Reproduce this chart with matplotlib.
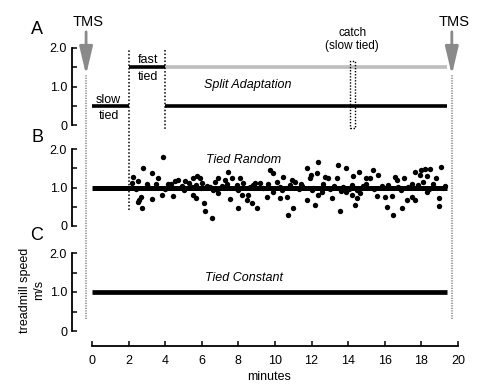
import matplotlib
matplotlib.use("Agg")
import matplotlib.pyplot as plt
from matplotlib.patches import Rectangle

plt.rcParams['font.family'] = ['Liberation Sans', 'DejaVu Sans']

# ---------------- data ----------------
# Panel A: split adaptation protocol (start, end, speed, colour)
a_start = [0, 2, 4, 4]
a_end = [2, 4, 19.4, 19.4]
a_speed = [0.5, 1.5, 1.5, 0.5]
a_color = ['black', 'black', '#bdbdbd', 'black']
catch_start, catch_end = 14.1, 14.37

# Panel B: tied random speeds
b_line_x = [0, 19.4]
b_line_y = [1.0, 1.0]
b_x = [2.17, 2.26, 2.50, 2.53, 2.57, 2.68, 2.75, 2.80, 2.99, 3.08, 3.26, 3.30, 3.62, 3.84, 3.90,
       4.17, 4.45, 4.54, 4.72, 4.90, 5.10, 5.30, 5.45, 5.54, 5.54, 5.66, 5.72, 5.90, 5.95, 6.14,
       6.17, 6.30, 6.45, 6.54, 6.63, 6.72, 6.90, 6.90, 7.10, 7.27, 7.45, 7.54, 7.63, 7.80, 7.90,
       7.99, 8.09, 8.18, 8.27, 8.45, 8.54, 8.63, 8.72, 8.90, 9.00, 9.18, 9.35, 9.54, 9.73, 9.90,
       9.90, 10.09, 10.27, 10.27, 10.45, 10.63, 10.72, 10.91, 11.00, 11.09, 11.30, 11.50, 11.73,
       11.73, 11.91, 11.97, 12.10, 12.19, 12.28, 12.33, 12.37, 12.55, 12.73, 12.91, 13.10, 13.20,
       13.37, 13.46, 13.55, 13.73, 13.88, 13.90, 14.05, 14.19, 14.28, 14.37, 14.46, 14.59, 14.64,
       14.80, 14.97, 15.19, 15.37, 15.56, 15.65, 15.85, 16.01, 16.10, 16.38, 16.46, 16.56, 16.65,
       16.74, 16.92, 17.07, 17.20, 17.29, 17.47, 17.65, 17.65, 17.83, 17.92, 18.01, 18.10, 18.20,
       18.29, 18.29, 18.47, 18.65, 18.83, 18.96, 18.96, 19.07, 19.20,
       2.40, 3.50, 4.00, 4.30, 5.00, 5.70, 6.00, 6.80, 7.40, 8.00, 8.80, 9.60, 10.40, 10.80,
       11.40, 12.00, 12.60, 13.00, 13.60, 14.20, 14.50, 15.00, 15.40, 16.20, 16.90, 17.50,
       18.40, 19.30]
b_y = [1.11, 1.28, 0.63, 1.17, 0.68, 0.76, 0.46, 1.51, 1.08, 1.02, 0.70, 1.37, 1.25, 0.81, 1.80,
       1.08, 0.79, 1.17, 1.19, 1.05, 1.18, 1.12, 1.02, 1.24, 0.81, 0.72, 1.31, 1.24, 1.00, 0.59,
       0.39, 1.05, 1.02, 0.22, 0.94, 1.15, 1.24, 0.85, 1.05, 1.19, 1.41, 0.69, 1.24, 1.00, 1.06,
       0.46, 1.24, 0.81, 1.11, 0.68, 0.81, 1.02, 0.59, 1.11, 0.48, 1.11, 1.00, 0.76, 1.45, 1.37,
       0.89, 1.15, 1.02, 0.72, 1.27, 0.76, 0.29, 1.19, 0.48, 1.15, 0.95, 1.05, 1.51,
       0.68, 1.24, 1.32, 1.00, 0.55, 1.37, 1.65, 0.81, 0.89, 1.28, 1.24, 0.74, 1.05,
       1.25, 1.58, 0.39, 1.02, 1.51, 0.89, 0.95, 0.81, 1.31, 0.55, 0.72, 1.39, 0.85,
       1.05, 1.24, 1.24, 1.45, 0.79, 1.32, 1.05, 0.76, 0.50, 0.79, 0.29, 1.28, 1.19,
       1.02, 0.46, 1.25, 0.68, 1.02, 0.76, 1.39, 0.68, 1.06, 1.32, 1.45, 1.15, 1.48,
       1.31, 0.89, 1.48, 1.10, 1.24, 0.72, 0.52, 1.54, 1.00,
       0.97, 1.08, 0.95, 1.10, 0.93, 1.07, 1.12, 0.96, 1.08, 0.94, 1.06, 1.09, 0.93, 1.06,
       1.08, 0.94, 1.10, 0.97, 0.92, 1.06, 0.93, 1.08, 0.95, 1.07, 0.94, 1.10, 0.96, 1.03]

# Panel C: tied constant
c_line_x = [0, 19.4]
c_line_y = [1.0, 1.0]

tms_x = [-0.33, 19.67]
x_ticks = list(range(0, 21, 2))
y_ticks = [0, 0.5, 1.0, 1.5, 2.0]
y_ticklabels = ['0', '', '1.0', '', '2.0']

# ---------------- figure ----------------
W, H = 486, 388
fig = plt.figure(figsize=(W / 100, H / 100), dpi=100)

def add_panel(y0_px, y2_px):
    return fig.add_axes([72 / W, (H - y0_px) / H, 395 / W, (y0_px - y2_px) / H])

axA = add_panel(125, 48)
axB = add_panel(226, 149)
axC = add_panel(331, 253)

for ax in (axA, axB, axC):
    ax.set_xlim(-1.1, 20.5)
    ax.set_ylim(0, 2)
    for s in ('top', 'right'):
        ax.spines[s].set_visible(False)
    ax.spines['left'].set_bounds(0, 2)
    ax.spines['left'].set_linewidth(1.3)
    ax.set_yticks(y_ticks)
    ax.set_yticklabels(y_ticklabels)
    ax.tick_params(axis='y', direction='in', length=3.5, width=1.1, pad=3.5, labelsize=9)
    ax.patch.set_visible(False)

for ax in (axA, axB):
    ax.spines['bottom'].set_visible(False)
    ax.tick_params(axis='x', bottom=False, labelbottom=False)

axC.spines['bottom'].set_position(('outward', 11))
axC.spines['bottom'].set_bounds(0, 20)
axC.spines['bottom'].set_linewidth(1.3)
axC.set_xticks(x_ticks)
axC.tick_params(axis='x', direction='in', length=3.5, width=1.1, pad=6, labelsize=9)
axC.set_xlabel('minutes', fontsize=9, labelpad=3)

# ---- Panel A ----
for x0, x1, y, c in zip(a_start, a_end, a_speed, a_color):
    axA.plot([x0, x1], [y, y], color=c, lw=2.6, solid_capstyle='butt',
             zorder=3 if c == 'black' else 2, clip_on=False)
axA.plot([4, 4], [1.95, -0.13], color='black', lw=1.1, ls=(0, (1, 1.3)), clip_on=False)
axA.add_patch(Rectangle((catch_start, -0.07), catch_end - catch_start, 1.73, fill=False,
                        ec='black', lw=1.0, ls=(0, (1, 1.2)), clip_on=False, zorder=4))
axA.text(14.23, 2.22, 'catch\n(slow tied)', ha='center', va='center', fontsize=8.5, linespacing=1.1)
axA.text(3.05, 1.68, 'fast', ha='center', va='center', fontsize=9)
axA.text(3.05, 1.24, 'tied', ha='center', va='center', fontsize=9)
axA.text(0.9, 0.65, 'slow', ha='center', va='center', fontsize=9)
axA.text(0.9, 0.24, 'tied', ha='center', va='center', fontsize=9)
axA.text(8.5, 1.04, 'Split Adaptation', ha='center', va='center', fontsize=9, style='italic')

for tx in tms_x:
    axA.annotate('', xy=(tx, 1.30), xytext=(tx, 2.42),
                 arrowprops=dict(arrowstyle='-|>,head_length=0.85,head_width=0.2',
                                 color='#8a8a8a', lw=2, mutation_scale=20, shrinkA=0, shrinkB=0),
                 annotation_clip=False)
    axA.text(tx + 0.1, 2.67, 'TMS', ha='center', va='center', fontsize=10.5)

# ---- Panel B ----
axB.plot(b_line_x, b_line_y, color='black', lw=3.6, solid_capstyle='butt', zorder=2)
axB.scatter(b_x, b_y, s=15, color='black', lw=0, zorder=3, clip_on=False)
axB.plot([2, 2], [0.42, 4.57], color='black', lw=1.1, ls=(0, (1, 1.3)), clip_on=False)
axB.text(8.3, 1.71, 'Tied Random', ha='center', va='center', fontsize=9, style='italic')

# ---- Panel C ----
axC.plot(c_line_x, c_line_y, color='black', lw=3.4, solid_capstyle='butt', zorder=2)
axC.text(8.3, 1.36, 'Tied Constant', ha='center', va='center', fontsize=9, style='italic')
for tx in tms_x:
    axC.plot([tx, tx], [0.31, 6.56], color='#a0a0a0', lw=1.5, ls=(0, (0.6, 0.6)), clip_on=False)

# panel letters and y label
fig.text(37 / W, 1 - 30 / H, 'A', fontsize=13, ha='center', va='center')
fig.text(37 / W, 1 - 137 / H, 'B', fontsize=13, ha='center', va='center')
fig.text(37 / W, 1 - 236 / H, 'C', fontsize=13, ha='center', va='center')
fig.text(32 / W, 1 - 290 / H, 'treadmill speed\nm/s', rotation=90, fontsize=9,
         ha='center', va='center', linespacing=1.15, multialignment='center')

fig.savefig('out.png', dpi=100)
